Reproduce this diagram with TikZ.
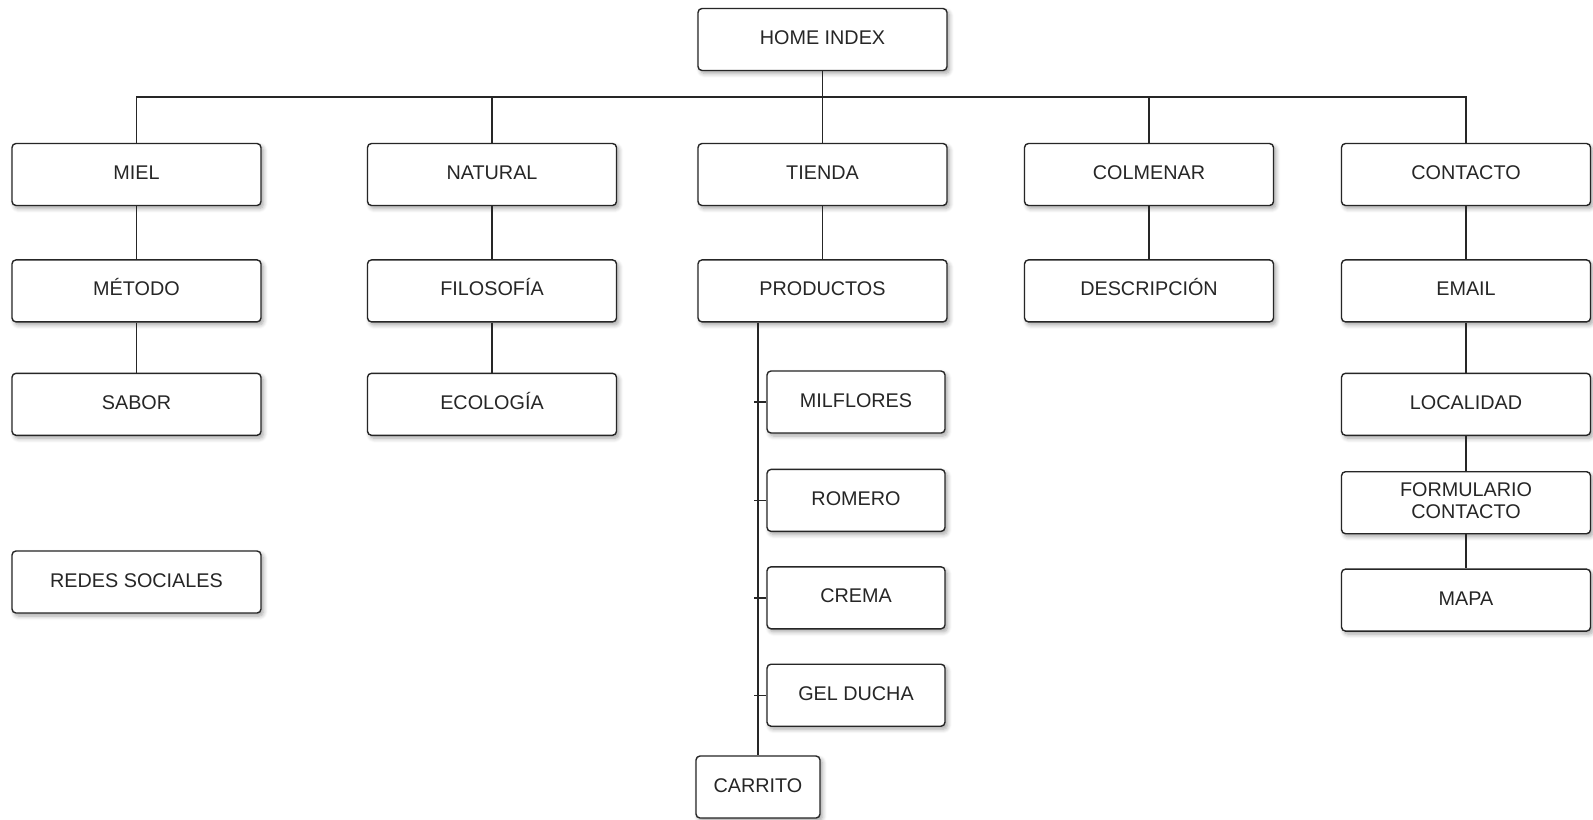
\documentclass[tikz,border=0pt]{standalone}
\usepackage{fontspec}
\setmainfont{Liberation Sans}
\usetikzlibrary{positioning,shadows.blur}

\begin{document}
\begin{tikzpicture}[x=0.5pt,y=-0.5pt,
  box/.style={draw=black!85, line width=0.7pt, rounded corners=2pt, fill=white,
    minimum width=124.5pt, minimum height=31pt, align=center, inner sep=1pt,
    text height=7.2pt, text depth=2.2pt,
    font=\fontsize{9.9}{10.8}\selectfont, text=black!85,
    blur shadow={shadow xshift=1.2pt, shadow yshift=-1.5pt, shadow blur steps=6, shadow opacity=35}},
  smallbox/.style={box, minimum width=89pt},
  tinybox/.style={box, minimum width=62pt},
  link/.style={draw=black!85, line width=0.7pt}]
  \useasboundingbox (0,0) rectangle (1593,819);

  \node[box] (home) at (822.5,39.5) {HOME INDEX};

  \node[box] (miel) at (136.5,174.5) {MIEL};
  \node[box] (natural) at (492,174.5) {NATURAL};
  \node[box] (tienda) at (822.5,174.5) {TIENDA};
  \node[box] (colmenar) at (1149,174.5) {COLMENAR};
  \node[box] (contacto) at (1466,174.5) {CONTACTO};

  \node[box] (metodo) [below=26.5pt of miel] {MÉTODO};
  \node[box] (sabor) [below=25pt of metodo] {SABOR};
  \node[box] (redes) at (136.5,582) {REDES SOCIALES};

  \node[box] (filosofia) [below=26.5pt of natural] {FILOSOFÍA};
  \node[box] (ecologia) [below=25pt of filosofia] {ECOLOGÍA};

  \node[box] (productos) [below=26.5pt of tienda] {PRODUCTOS};
  \node[smallbox] (milflores) at (856,402) {MILFLORES};
  \node[smallbox] (romero) [below=17.5pt of milflores] {ROMERO};
  \node[smallbox] (crema) [below=17pt of romero] {CREMA};
  \node[smallbox] (gel) [below=17pt of crema] {GEL DUCHA};
  \node[tinybox] (carrito) at (758,787) {CARRITO};

  \node[box] (descripcion) [below=26.5pt of colmenar] {DESCRIPCIÓN};

  \node[box] (email) [below=26.5pt of contacto] {EMAIL};
  \node[box] (localidad) [below=25pt of email] {LOCALIDAD};
  \node[box, text height=18pt] (formulario) [below=17.5pt of localidad] {FORMULARIO\\CONTACTO};
  \node[box] (mapa) [below=17pt of formulario] {MAPA};

  \coordinate (bus) at (822.5,97);
  \draw[link] (home) -- (bus);
  \foreach \n in {miel,natural,tienda,colmenar,contacto}
    \draw[link] (bus) -| (\n.north);

  \draw[link] (miel) -- (metodo) -- (sabor);
  \draw[link] (natural) -- (filosofia) -- (ecologia);
  \draw[link] (tienda) -- (productos);
  \draw[link] (colmenar) -- (descripcion);
  \draw[link] (contacto) -- (email) -- (localidad) -- (formulario) -- (mapa);

  \draw[link] (productos.south -| carrito.north) -- (carrito.north);
  \foreach \n in {milflores,romero,crema,gel}
    \draw[link] (\n.west) -- ++(-6pt,0pt);
\end{tikzpicture}
\end{document}
